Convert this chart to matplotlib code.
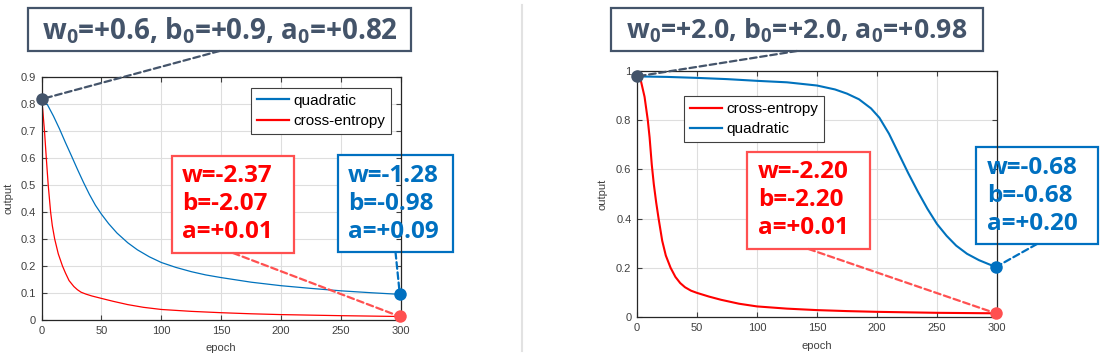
import numpy as np
import matplotlib
matplotlib.use("Agg")
import matplotlib.pyplot as plt
from matplotlib.patches import Rectangle, ConnectionPatch
from matplotlib.lines import Line2D

# ---- data ----
# left run: w0=0.6, b0=0.9
left_quad_epoch = [0, 5, 10, 15, 20, 25, 30, 35, 40, 45, 50, 56, 63, 72, 80, 90, 100,
                   112, 125, 137, 150, 175, 200, 225, 250, 275, 299]
left_quad = [0.818, 0.797, 0.755, 0.708, 0.657, 0.608, 0.558, 0.510, 0.465, 0.425, 0.392,
             0.357, 0.322, 0.286, 0.260, 0.234, 0.213, 0.195, 0.179, 0.167, 0.157, 0.140,
             0.127, 0.117, 0.108, 0.101, 0.095]
left_ce_epoch = [0, 1, 2.5, 4, 5.6, 7.6, 9, 11, 14, 17.5, 20, 23, 27, 30, 33, 37, 42, 50,
                 60, 72, 85, 100, 125, 150, 175, 200, 250, 299]
left_ce = [0.818, 0.78, 0.70, 0.60, 0.50, 0.40, 0.35, 0.30, 0.245, 0.20, 0.174, 0.146,
           0.124, 0.112, 0.103, 0.096, 0.089, 0.080, 0.069, 0.057, 0.047, 0.039, 0.032,
           0.027, 0.023, 0.020, 0.016, 0.013]

# right run: w0=2.0, b0=2.0
right_ce_epoch = [0, 3, 6.3, 9, 10.5, 12.3, 14, 16, 18, 21, 24, 28, 32, 36, 40, 45, 50, 60,
                  70, 85, 100, 125, 150, 175, 200, 250, 299]
right_ce = [0.98, 0.965, 0.895, 0.80, 0.73, 0.62, 0.54, 0.465, 0.40, 0.31, 0.25, 0.20,
            0.163, 0.138, 0.121, 0.107, 0.098, 0.083, 0.07, 0.054, 0.043, 0.034, 0.028,
            0.024, 0.021, 0.017, 0.015]
right_quad_epoch = [0, 25, 50, 75, 100, 125, 150, 165, 175, 185, 195, 202, 210, 218, 226,
                    234, 242, 250, 258, 266, 275, 285, 292, 299]
right_quad = [0.978, 0.976, 0.972, 0.967, 0.96, 0.954, 0.941, 0.925, 0.908, 0.885, 0.848,
              0.81, 0.745, 0.665, 0.585, 0.51, 0.44, 0.378, 0.33, 0.29, 0.257, 0.231,
              0.217, 0.203]

start_params = [(0.6, 0.9, 0.82), (2.0, 2.0, 0.98)]
final_ce = [(-2.37, -2.07, 0.01), (-2.20, -2.20, 0.01)]
final_quad = [(-1.28, -0.98, 0.09), (-0.68, -0.68, 0.20)]

# ---- colours ----
BLUE = "#0072BD"
RED = "#FF0000"
SLATE = "#44546A"
LRED = "#FF5050"
BOXBLUE = "#0070C0"
GRID = "#dedede"
AXC = "#262626"

W, H = 1108, 354
plt.rcParams["font.family"] = ["Liberation Sans", "DejaVu Sans"]
plt.rcParams["mathtext.fontset"] = "custom"
plt.rcParams["mathtext.rm"] = "Open Sans:bold"
plt.rcParams["mathtext.it"] = "Open Sans:bold"
plt.rcParams["mathtext.bf"] = "Open Sans:bold"


def fx(px):
    return px / W


def fy(py):
    return 1 - py / H


fig = plt.figure(figsize=(W / 100, H / 100), dpi=100)
axL = fig.add_axes([41.5 / W, (H - 320) / H, 359.5 / W, 243 / H])
axR = fig.add_axes([637 / W, (H - 317) / H, 360 / W, 246 / H])


def style_axes(ax, ymax, ystep, ylab_off, xlab_off):
    ax.set_xlim(0, 300)
    ax.set_ylim(0, ymax)
    xt = np.arange(0, 301, 50)
    yt = np.round(np.arange(0, ymax + 1e-9, ystep), 2)
    ax.set_xticks(xt)
    ax.set_yticks(yt)
    ax.set_yticklabels([f"{v:g}" for v in yt])
    for t in xt:
        ax.axvline(t, color=GRID, lw=0.8, zorder=0.8)
    for t in yt:
        ax.axhline(t, color=GRID, lw=0.8, zorder=0.8)
    ax.tick_params(direction="in", top=True, right=True, length=3.5, width=0.8,
                   labelsize=8, colors="#404040", pad=4)
    for sp in ax.spines.values():
        sp.set_color(AXC)
        sp.set_linewidth(0.9)
    ax.set_xlabel("epoch", fontsize=8, color="#404040")
    ax.set_ylabel("output", fontsize=8, color="#404040")
    ax.yaxis.set_label_coords(ylab_off, 0.5)
    ax.xaxis.set_label_coords(0.5, xlab_off)


style_axes(axL, 0.9, 0.1, -28 / 359.5, -23 / 243)
style_axes(axR, 1.0, 0.2, -29 / 360, -24 / 246)

# curves
axL.plot(left_quad_epoch, left_quad, color=BLUE, lw=0.9, label="quadratic", zorder=2)
axL.plot(left_ce_epoch, left_ce, color=RED, lw=0.9, label="cross-entropy", zorder=2)
axR.plot(right_ce_epoch, right_ce, color=RED, lw=1.5, label="cross-entropy", zorder=2)
axR.plot(right_quad_epoch, right_quad, color=BLUE, lw=1.5, label="quadratic", zorder=2)

leg_kw = dict(borderaxespad=0, fontsize=11, fancybox=False, edgecolor="#404040",
              framealpha=1, handlelength=2.1, handletextpad=0.3, labelspacing=0.42,
              borderpad=0.38)
legL = axL.legend(loc="upper right", bbox_to_anchor=(0.972, 0.955), **leg_kw)
legR = axR.legend(loc="upper left", bbox_to_anchor=(0.1306, 0.898), **leg_kw)
for leg in (legL, legR):
    leg.get_frame().set_linewidth(0.8)
    for ln in leg.get_lines():
        ln.set_linewidth(1.6)


def add_box(ax, x0, y0, x1, y1, color):
    r = Rectangle((fx(x0), fy(y1)), (x1 - x0) / W, (y1 - y0) / H, transform=fig.transFigure,
                  facecolor="white", edgecolor=color, lw=1.6, zorder=1.5, clip_on=False)
    ax.add_artist(r)


def connect(ax, px, py, xd, yd, color):
    cp = ConnectionPatch(xyA=(fx(px), fy(py)), coordsA=fig.transFigure,
                         xyB=(xd, yd), coordsB=ax.transData, arrowstyle="-",
                         color=color, lw=1.6, linestyle=(0, (3, 1.6)), zorder=3,
                         clip_on=False)
    ax.add_artist(cp)


def value_lines(x, y_first, vals, color):
    w, b, a = vals
    for i, s in enumerate([f"w={w:+.2f}", f"b={b:+.2f}", f"a={a:+.2f}"]):
        fig.text(fx(x), fy(y_first + 28 * i), s, ha="left", va="center", fontsize=17.5,
                 fontweight="bold", family="Open Sans", color=color, zorder=6)


panels = [
    dict(ax=axL, top=(28, 8, 411, 51), top_fs=20, ce_box=(172, 156, 294, 253),
         q_box=(338, 155, 453, 252), ce_txt=182, q_txt=348, ce_y=176.5, q_y=176,
         start=left_quad[0], ce_end=(left_ce_epoch[-1], left_ce[-1]),
         q_end=(left_quad_epoch[-1], left_quad[-1])),
    dict(ax=axR, top=(611, 8, 983, 51), top_fs=19.2, ce_box=(747, 152, 870, 249),
         q_box=(976, 147, 1098, 244), ce_txt=758, q_txt=987, ce_y=172.5, q_y=167.5,
         start=right_quad[0], ce_end=(right_ce_epoch[-1], right_ce[-1]),
         q_end=(right_quad_epoch[-1], right_quad[-1])),
]

for p, sp, fce, fq in zip(panels, start_params, final_ce, final_quad):
    ax = p["ax"]
    x0, y0, x1, y1 = p["top"]
    r = Rectangle((fx(x0), fy(y1)), (x1 - x0) / W, (y1 - y0) / H, transform=fig.transFigure,
                  facecolor="white", edgecolor=SLATE, lw=1.6, zorder=1.5, clip_on=False)
    ax.add_artist(r)
    w0, b0, a0 = sp
    fig.text(fx((x0 + x1) / 2), fy((y0 + y1) / 2 + 1),
             f"w$_0$={w0:+.1f}, b$_0$={b0:+.1f}, a$_0$={a0:+.2f}",
             ha="center", va="center", fontsize=p["top_fs"], fontweight="bold",
             family="Open Sans", color=SLATE, zorder=6)
    connect(ax, (x0 + x1) / 2, y1, 0, p["start"], SLATE)

    cx0, cy0, cx1, cy1 = p["ce_box"]
    add_box(ax, cx0, cy0, cx1, cy1, LRED)
    connect(ax, (cx0 + cx1) / 2, cy1, p["ce_end"][0], p["ce_end"][1], LRED)
    value_lines(p["ce_txt"], p["ce_y"], fce, RED)

    qx0, qy0, qx1, qy1 = p["q_box"]
    add_box(ax, qx0, qy0, qx1, qy1, BOXBLUE)
    connect(ax, (qx0 + qx1) / 2, qy1, p["q_end"][0], p["q_end"][1], BOXBLUE)
    value_lines(p["q_txt"], p["q_y"], fq, BOXBLUE)

    ax.plot([0], [p["start"]], "o", color=SLATE, ms=9, mew=0, zorder=4, clip_on=False)
    ax.plot([p["ce_end"][0]], [p["ce_end"][1]], "o", color=LRED, ms=9, mew=0, zorder=4,
            clip_on=False)
    ax.plot([p["q_end"][0]], [p["q_end"][1]], "o", color=BOXBLUE, ms=9, mew=0, zorder=4,
            clip_on=False)

fig.add_artist(Line2D([fx(521.5)] * 2, [fy(5), fy(351)], transform=fig.transFigure,
                      color="#e2e2e2", lw=1.5))

fig.savefig("out.png", dpi=100, facecolor="white")
